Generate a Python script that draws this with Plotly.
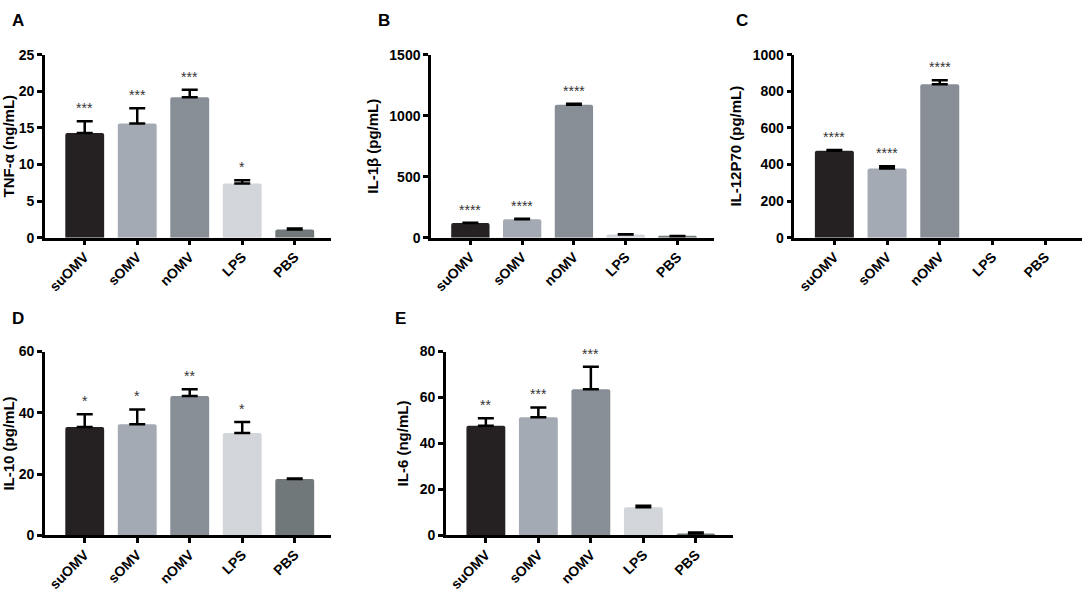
import plotly.graph_objects as go

categories = ["suOMV", "sOMV", "nOMV", "LPS", "PBS"]
bar_colors = ["#252122", "#a4aab3", "#878e96", "#d2d5da", "#707879"]

tnf_mean = [14.3, 15.6, 19.2, 7.4, 1.1]
tnf_err = [1.6, 2.1, 1.0, 0.45, 0.15]
tnf_stars = ["***", "***", "***", "*", ""]

il1b_mean = [120, 150, 1090, 25, 12]
il1b_err = [3, 6, 8, 2, 1]
il1b_stars = ["****", "****", "****", "", ""]

# LPS and PBS show no measurable IL-12P70 (no visible bar in the reference)
il12_mean = [475, 378, 838, None, None]
il12_err = [4, 12, 22, None, None]
il12_stars = ["****", "****", "****", "", ""]

il10_mean = [35.4, 36.3, 45.5, 33.4, 18.4]
il10_err = [4.1, 4.8, 2.2, 3.6, 0.2]
il10_stars = ["*", "*", "**", "*", ""]

il6_mean = [47.7, 51.4, 63.6, 12.3, 0.9]
il6_err = [3.3, 4.3, 9.8, 0.6, 0.4]
il6_stars = ["**", "***", "***", "", ""]

panels = [
    dict(letter="A", title="TNF-α (ng/mL)", mean=tnf_mean, err=tnf_err, stars=tnf_stars,
         yrange=[0, 25], dtick=5, px=(40, 328), py=(48, 236), lpos=(5, 13)),
    dict(letter="B", title="IL-1β (pg/mL)", mean=il1b_mean, err=il1b_err, stars=il1b_stars,
         yrange=[0, 1500], dtick=500, px=(428, 712), py=(48, 236), lpos=(373, 13)),
    dict(letter="C", title="IL-12P70 (pg/mL)", mean=il12_mean, err=il12_err, stars=il12_stars,
         yrange=[0, 1000], dtick=200, px=(793, 1082), py=(48, 236), lpos=(732, 13)),
    dict(letter="D", title="IL-10 (pg/mL)", mean=il10_mean, err=il10_err, stars=il10_stars,
         yrange=[0, 60], dtick=20, px=(40, 328), py=(353, 542), lpos=(5, 319)),
    dict(letter="E", title="IL-6 (ng/mL)", mean=il6_mean, err=il6_err, stars=il6_stars,
         yrange=[0, 80], dtick=20, px=(443, 731), py=(353, 542), lpos=(390, 319)),
]

W, H = 1084, 596
FONT = "Liberation Sans, Arial, sans-serif"

fig = go.Figure()
annotations = []
for i, p in enumerate(panels):
    n = "" if i == 0 else str(i + 1)
    xa, ya = "x" + n, "y" + n
    fig.add_trace(go.Bar(
        x=categories, y=p["mean"], xaxis=xa, yaxis=ya,
        marker=dict(color=bar_colors, line=dict(width=0), cornerradius=2),
        width=0.74,
        error_y=dict(type="data", array=p["err"], arrayminus=[0] * 5, symmetric=False,
                     color="black", thickness=2.5, width=8),
        showlegend=False, hoverinfo="x+y",
    ))
    x0, x1 = p["px"][0] / W, p["px"][1] / W
    y0, y1 = 1 - p["py"][1] / H, 1 - p["py"][0] / H
    fig.layout["xaxis" + n] = dict(
        domain=[x0, x1], anchor=ya, range=[-0.76, 4.7], showgrid=False, zeroline=False,
        showline=True, linecolor="black", linewidth=2.5, ticks="outside", ticklen=5,
        tickwidth=2.5, tickcolor="black", tickangle=-45, ticklabelstandoff=-2,
        tickfont=dict(family=FONT, size=14, color="black", weight="bold"),
    )
    fig.layout["yaxis" + n] = dict(
        domain=[y0, y1], anchor=xa, range=p["yrange"], dtick=p["dtick"], showgrid=False,
        zeroline=False, showline=True, linecolor="black", linewidth=2.5, ticks="outside",
        ticklen=5, tickwidth=2.5, tickcolor="black",
        tickfont=dict(family=FONT, size=14, color="black", weight="bold"),
        title=dict(text=p["title"], font=dict(family=FONT, size=15, color="black", weight="bold"),
                   standoff=8),
    )
    for c, m, e, s in zip(categories, p["mean"], p["err"], p["stars"]):
        if s:
            annotations.append(dict(
                x=c, y=m + (e or 0), xref=xa, yref=ya, text=s, showarrow=False,
                yanchor="bottom", yshift=3,
                font=dict(family=FONT, size=14, color="#333333"),
            ))
    lx, ly = p["lpos"]
    annotations.append(dict(
        x=lx / W, y=1 - ly / H, xref="paper", yref="paper",
        text=p["letter"], showarrow=False, xanchor="left", yanchor="middle",
        font=dict(family=FONT, size=17, color="black", weight="bold"),
    ))

fig.update_layout(
    width=W, height=H, margin=dict(l=0, r=0, t=0, b=0),
    paper_bgcolor="white", plot_bgcolor="white", annotations=annotations,
)
fig.write_html("out.html", config={"displayModeBar": False},
               post_script="document.body.style.margin='0';")
